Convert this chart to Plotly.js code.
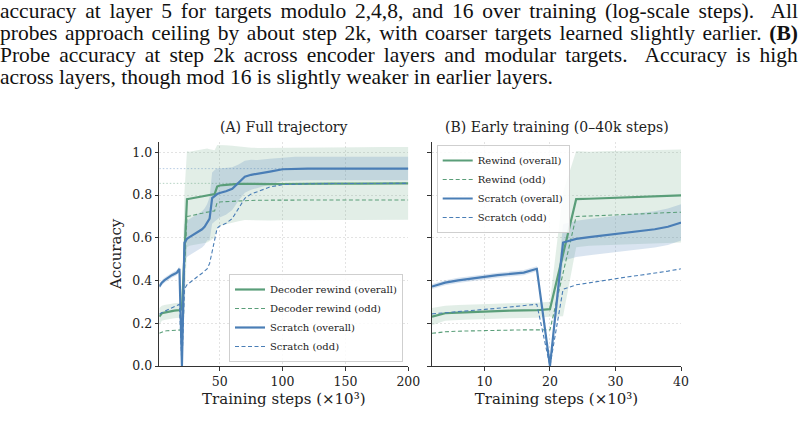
<!DOCTYPE html>
<html>
<head>
<meta charset="utf-8">
<script src="https://cdn.plot.ly/plotly-3.0.1.min.js"></script>
<style>
  html, body { margin: 0; padding: 0; background: #fff; }
  #chart { width: 806px; height: 422px; }
</style>
</head>
<body>
<div id="chart"></div>
<script>
// Training steps, in thousands
const steps = [2, 4, 6, 8, 10, 12, 14, 16, 18, 20,
               22, 24, 26, 28, 30, 32, 34, 36, 38, 40,
               42, 44, 46, 48, 50, 55, 60, 65, 70, 75, 80, 90, 100, 110, 120, 140, 160, 180, 200];

// Decoder-rewind run: mean probe accuracy (overall), its spread, and odd-target accuracy
const rewindOverall = [0.231, 0.247, 0.250, 0.253, 0.255, 0.257, 0.259, 0.260, 0.261, 0.266,
                       0.523, 0.781, 0.783, 0.785, 0.787, 0.789, 0.791, 0.793, 0.795, 0.798,
                       0.800, 0.802, 0.805, 0.840, 0.845, 0.848, 0.851, 0.853, 0.853, 0.852, 0.851, 0.851, 0.852, 0.853, 0.853, 0.854, 0.854, 0.855, 0.855];
const rewindOverallSd = [0.040, 0.035, 0.035, 0.035, 0.035, 0.035, 0.035, 0.035, 0.035, 0.035,
                         0.290, 0.225, 0.220, 0.220, 0.220, 0.220, 0.220, 0.220, 0.220, 0.220,
                         0.215, 0.210, 0.205, 0.195, 0.190, 0.185, 0.180, 0.175, 0.170, 0.170, 0.170, 0.170, 0.170, 0.170, 0.170, 0.170, 0.170, 0.170, 0.170];
const rewindOdd = [0.153, 0.160, 0.163, 0.165, 0.166, 0.167, 0.168, 0.169, 0.169, 0.169,
                   0.435, 0.700, 0.702, 0.704, 0.706, 0.709, 0.712, 0.715, 0.718, 0.721,
                   0.722, 0.724, 0.726, 0.765, 0.768, 0.770, 0.772, 0.773, 0.774, 0.775, 0.776, 0.777, 0.777, 0.777, 0.777, 0.777, 0.777, 0.777, 0.777];

// From-scratch run
const scratchOverall = [0.372, 0.390, 0.401, 0.410, 0.419, 0.425, 0.431, 0.437, 0.455, 0.000,
                        0.578, 0.595, 0.603, 0.610, 0.618, 0.625, 0.632, 0.640, 0.652, 0.672,
                        0.690, 0.786, 0.797, 0.805, 0.810, 0.818, 0.830, 0.858, 0.886, 0.895, 0.899, 0.910, 0.921, 0.924, 0.924, 0.924, 0.924, 0.924, 0.924];
const scratchOverallSd = [0.012, 0.012, 0.012, 0.012, 0.012, 0.012, 0.012, 0.012, 0.012, 0.010,
                          0.085, 0.085, 0.085, 0.085, 0.085, 0.085, 0.085, 0.085, 0.085, 0.085,
                          0.100, 0.120, 0.120, 0.120, 0.115, 0.110, 0.100, 0.085, 0.075, 0.070, 0.065, 0.060, 0.055, 0.055, 0.055, 0.055, 0.055, 0.055, 0.055];
const scratchOdd = [0.244, 0.250, 0.255, 0.260, 0.265, 0.270, 0.276, 0.282, 0.289, 0.000,
                    0.359, 0.380, 0.390, 0.400, 0.410, 0.418, 0.426, 0.434, 0.444, 0.455,
                    0.480, 0.540, 0.600, 0.645, 0.655, 0.668, 0.690, 0.740, 0.785, 0.805, 0.815, 0.838, 0.849, 0.852, 0.853, 0.854, 0.855, 0.855, 0.855];

// Legend names per panel
const namesFull = ['Decoder rewind (overall)', 'Decoder rewind (odd)', 'Scratch (overall)', 'Scratch (odd)'];
const namesEarly = ['Rewind (overall)', 'Rewind (odd)', 'Scratch (overall)', 'Scratch (odd)'];

const panelTitles = ['(A) Full trajectory', '(B) Early training (0\u201340k steps)'];
const xTicksFull = [50, 100, 150, 200];
const xTicksEarly = [10, 20, 30, 40];
const yTicks = [0, 0.2, 0.4, 0.6, 0.8, 1.0];

const captionLines = [
  'accuracy at layer 5 for targets modulo 2,4,8, and 16 over training (log-scale steps).  All',
  'probes approach ceiling by about step 2k, with coarser targets learned slightly earlier. <b>(B)</b>',
  'Probe accuracy at step 2k across encoder layers and modular targets.  Accuracy is high',
  'across layers, though mod 16 is slightly weaker in earlier layers.'
];

const GREEN = '#5a9e79';
const BLUE = '#4a7eb6';
const SERIF = '"DejaVu Serif", serif';
const W = 806, H = 422;

const add = (a, b, s) => a.map((v, i) => v + s * b[i]);

function panelTraces(xa, ya, legendId, names, withRefLines) {
  const t = [];
  // shaded spread around the overall curves
  [[rewindOverall, rewindOverallSd, 'rgba(90,158,121,0.175)'],
   [scratchOverall, scratchOverallSd, 'rgba(74,126,182,0.21)']].forEach(([m, sd, fc]) => {
    t.push({x: steps, y: add(m, sd, 1), xaxis: xa, yaxis: ya, mode: 'lines',
            line: {width: 0, color: fc}, showlegend: false, hoverinfo: 'skip'});
    t.push({x: steps, y: add(m, sd, -1), xaxis: xa, yaxis: ya, mode: 'lines',
            line: {width: 0, color: fc}, fill: 'tonexty', fillcolor: fc,
            showlegend: false, hoverinfo: 'skip'});
  });
  if (withRefLines) {
    // final-accuracy reference levels
    [[rewindOverall, 'rgba(90,158,121,0.45)'], [scratchOverall, 'rgba(74,126,182,0.4)']].forEach(([m, c]) => {
      const last = m[m.length - 1];
      t.push({x: [steps[0], steps[steps.length - 1]], y: [last, last], xaxis: xa, yaxis: ya,
              mode: 'lines', line: {color: c, width: 1, dash: '1.5px,2px'},
              showlegend: false, hoverinfo: 'skip'});
    });
  }
  const series = [
    [rewindOverall, GREEN, 2.2, 'solid'],
    [rewindOdd, GREEN, 1.1, '4px,2.5px'],
    [scratchOverall, BLUE, 2.2, 'solid'],
    [scratchOdd, BLUE, 1.1, '4px,2.5px']
  ];
  series.forEach(([y, c, w, d], i) => {
    t.push({x: steps, y: y, xaxis: xa, yaxis: ya, mode: 'lines', name: names[i],
            legend: legendId, line: {color: c, width: w, dash: d}});
  });
  return t;
}

const data = [
  ...panelTraces('x', 'y', 'legend', namesFull, true),
  ...panelTraces('x2', 'y2', 'legend2', namesEarly, false)
];

const yDom = [(H - 366) / H, (H - 141.7) / H];
const axisCommon = {
  showline: true, linecolor: '#333', linewidth: 1.2, mirror: false, zeroline: false,
  ticks: 'outside', ticklen: 3.5, tickwidth: 1, tickcolor: '#333',
  showgrid: true, gridcolor: '#dcdcdc', gridwidth: 0.8, griddash: '2px,2px',
  tickfont: {family: SERIF, size: 12.5, color: '#222'}
};
const xTitle = {text: 'Training steps (\u00d710\u00b3)', font: {family: SERIF, size: 15, color: '#222'}, standoff: 5};

const legendCommon = {
  bgcolor: 'rgba(255,255,255,0.85)', bordercolor: '#cfcfcf', borderwidth: 1,
  font: {family: SERIF, size: 10, color: '#222'}, tracegroupgap: 0, itemwidth: 30,
  traceorder: 'normal'
};

const annotations = [
  {text: panelTitles[0], x: (159.3 + 408.3) / 2 / W, y: (H - 127) / H},
  {text: panelTitles[1], x: (432 + 681) / 2 / W, y: (H - 127) / H}
].map(a => Object.assign(a, {xref: 'paper', yref: 'paper', xanchor: 'center', yanchor: 'middle',
  showarrow: false, font: {family: SERIF, size: 14, color: '#222'}}));

const captionCenters = [11, 33, 55, 77];
captionLines.forEach((txt, i) => {
  annotations.push({text: txt, xref: 'paper', yref: 'paper', x: 0, y: (H - captionCenters[i]) / H,
    xanchor: 'left', yanchor: 'middle', xshift: -2, showarrow: false, align: 'left',
    font: {family: '"Liberation Serif", serif', size: 21.5, color: '#111'}});
});

const layout = {
  width: W, height: H, margin: {l: 0, r: 0, t: 0, b: 0},
  paper_bgcolor: '#fff', plot_bgcolor: '#fff',
  font: {family: SERIF, size: 12, color: '#222'},
  xaxis: Object.assign({}, axisCommon, {domain: [159.3 / W, 408.3 / W], range: [2, 200],
    tickvals: xTicksFull, title: xTitle, anchor: 'y'}),
  yaxis: Object.assign({}, axisCommon, {domain: yDom, range: [0, 1.05], tickvals: yTicks,
    tickformat: '.1f', anchor: 'x',
    title: {text: 'Accuracy', font: {family: SERIF, size: 15, color: '#222'}, standoff: 7}}),
  xaxis2: Object.assign({}, axisCommon, {domain: [432 / W, 681 / W], range: [2, 40],
    tickvals: xTicksEarly, title: xTitle, anchor: 'y2'}),
  yaxis2: Object.assign({}, axisCommon, {domain: yDom, range: [0, 1.05], tickvals: yTicks,
    showticklabels: false, anchor: 'x2'}),
  legend: Object.assign({}, legendCommon, {x: 403 / W, xanchor: 'right', y: (H - 362) / H, yanchor: 'bottom'}),
  legend2: Object.assign({}, legendCommon, {x: 436.7 / W, xanchor: 'left', y: (H - 145) / H, yanchor: 'top'}),
  annotations: annotations,
  hovermode: false
};

Plotly.newPlot('chart', data, layout, {staticPlot: true, displayModeBar: false}).then(gd => {
  // justify the first three caption lines to the full text width
  const texts = gd.querySelectorAll('.infolayer .annotation .annotation-text');
  const targetRight = 798;
  for (let k = 2; k < 5; k++) {
    const el = texts[k];
    if (!el) continue;
    const b0 = el.getBBox();
    const ctm = el.getScreenCTM();
    const left = b0.x + (ctm ? ctm.e : 0);
    const nSpaces = (el.textContent.match(/ /g) || []).length;
    const extra = (targetRight - left) - b0.width;
    if (nSpaces > 0 && extra > 0) {
      el.style.wordSpacing = (extra / nSpaces) + 'px';
      const b1 = el.getBBox();
      el.setAttribute('transform', 'translate(' + (b0.x - b1.x) + ',0)');
    }
  }
});
</script>
</body>
</html>
